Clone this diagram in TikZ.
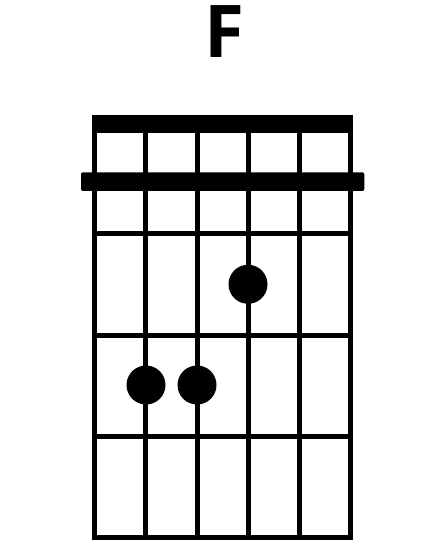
\documentclass[tikz,border=0pt]{standalone}
\usepackage{fontspec}
\setsansfont{Open Sans}
\usetikzlibrary{positioning}
\tikzset{
    chordline/.style={
        draw=black,
        line width=5bp
    },
    chordbar/.style={
        fill=black
    },
    fingerdot/.style={
        circle,
        fill=black,
        minimum size=39bp,
        inner sep=0pt
    },
    chordname/.style={
        font=\sffamily\bfseries\fontsize{73}{73}\selectfont,
        inner sep=0pt
    }
}
\begin{document}
\begin{tikzpicture}[x=1bp,y=-1bp]
    \useasboundingbox (0,0) rectangle (445,560);
    \node[chordname,anchor=base] (title) at (224.5,58) {F};

    % strings and frets
    \foreach \s in {0,...,5}
        \draw[chordline] ({94.8+51.1*\s},115) -- ({94.8+51.1*\s},540);
    \foreach \f in {233,335,436,537.5}
        \draw[chordline] (92.3,\f) -- (353.3,\f);

    % nut and barre
    \fill[chordbar] (92.3,115) rectangle (353.3,133.3);
    \fill[chordbar,rounded corners=2bp] (81,172.3) rectangle (364.3,191);

    \node[fingerdot] (dotG) at (248,284.3) {};
    \node[fingerdot] (dotA) at (146,385) {};
    \node[fingerdot] (dotD) at (197,385) {};
\end{tikzpicture}
\end{document}
